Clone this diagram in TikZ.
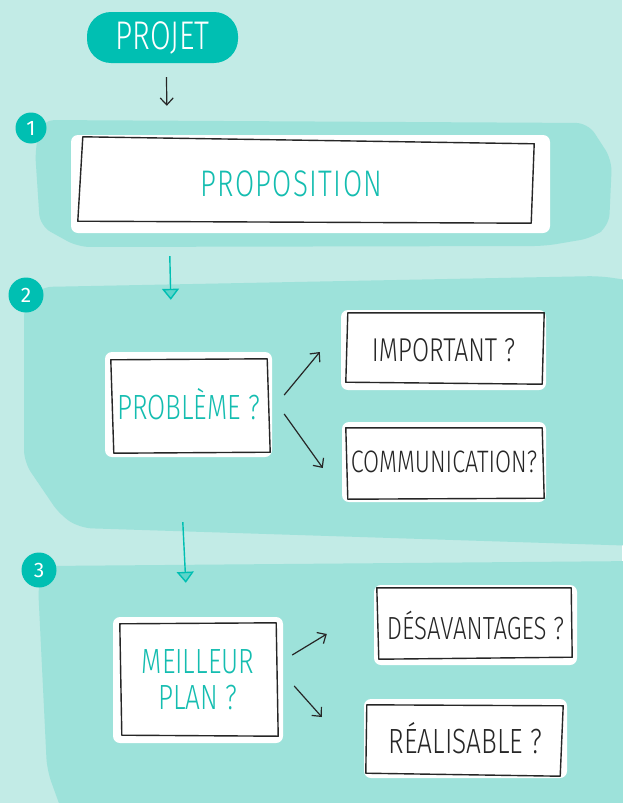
\documentclass[tikz,border=0pt]{standalone}
\usepackage{fontspec}
\newfontfamily\hand[FakeStretch=0.75]{Fira Sans Light}
\newfontfamily\handnum{Fira Sans}
\usetikzlibrary{arrows.meta,calc}
\definecolor{bgc}{HTML}{C2EBE6}
\definecolor{bandc}{HTML}{9DE2DA}
\definecolor{tealdark}{HTML}{00BFB2}
\definecolor{tealtext}{HTML}{14BDB0}
\definecolor{ink}{HTML}{262626}
\newcommand{\skbox}[9]{\draw[sketch] ($(#1.north west)+(#2,#3)$) -- ($(#1.north east)+(#4,#5)$) -- ($(#1.south east)+(#6,#7)$) -- ($(#1.south west)+(#8,#9)$) -- cycle;}
\begin{document}
\begin{tikzpicture}[x=1pt,y=-1pt,
 halo/.style={fill=white, rounded corners=7pt, inner sep=0pt, text=ink, align=center},
 maintext/.style={text=tealtext, font=\hand\fontsize{35}{40}\selectfont},
 subtext/.style={text=ink, font=\hand\fontsize{33}{38}\selectfont},
 sketch/.style={draw=ink, line width=1.4pt, line join=round},
 band/.style={fill=bandc, rounded corners=12pt},
 badge/.style={circle, fill=tealdark, text=white, inner sep=0pt, font=\handnum\fontsize{21}{21}\selectfont},
 inkarrow/.style={draw=ink, line width=1.2pt, -{Straight Barb[length=7pt,width=13pt]}},
 tealarrow/.style={draw=tealdark, line width=1.4pt, -{Triangle[length=11pt, width=17pt, line width=1.4pt, fill=tealdark!40!bandc]}},
]
\useasboundingbox (0,0) rectangle (622,803);
\fill[bgc] (0,0) rectangle (622,803);
% bands
\path[band] (42,120) -- (588,123) -- (612,160) -- (609,226) -- (592,238) -- (545,246) -- (78,247) -- (40,226) -- (35,150) -- cycle;
\path[band] (40,287) -- (600,276) -- (640,282) -- (640,546) -- (80,528) -- (60,515) -- (24,462) -- (24,305) -- cycle;
\path[band] (45,566) -- (640,561) -- (640,820) -- (65,820) -- (47,770) -- (38,585) -- cycle;
% badges
\node[badge, minimum size=31pt] (b1) at (31,128) {1};
\node[badge, minimum size=35pt] (b2) at (26,295) {2};
\node[badge, minimum size=35pt] (b3) at (39,570) {3};
% project blob
\node[fill=tealdark, rounded corners=24pt, minimum width=151pt, minimum height=51pt, inner sep=0pt, text=white, font=\hand\fontsize{40}{44}\selectfont] (projet) at (162.5,37.5) {PROJET};
% boxes
\node[halo, minimum width=479pt, minimum height=98pt, label={[maintext, font=\hand\fontsize{37}{40}\selectfont\addfontfeature{LetterSpace=3.5}, xshift=-19pt]center:PROPOSITION}] (prop) at (310.5,184) {};
\node[halo, maintext, minimum width=167pt, minimum height=105pt] (prob) at (188.5,404.5) {PROBLÈME ?};
\node[halo, subtext, minimum width=205pt, minimum height=80pt] (imp) at (443.5,350) {IMPORTANT ?};
\node[halo, subtext, minimum width=204pt, minimum height=80pt, font=\hand\fontsize{31}{34}\selectfont] (comm) at (444,462) {COMMUNICATION?};
\node[halo, maintext, minimum width=170pt, minimum height=126pt, font=\hand\fontsize{35}{36}\selectfont] (meil) at (198,680) {MEILLEUR\\PLAN ?};
\node[halo, subtext, minimum width=203pt, minimum height=80pt, font=\hand\fontsize{32}{34}\selectfont] (desa) at (475.5,625) {DÉSAVANTAGES ?};
\node[halo, subtext, minimum width=203pt, minimum height=79pt, font=\hand\fontsize{35}{38}\selectfont] (real) at (465.5,738.5) {RÉALISABLE ?};
% sketch outlines
\skbox{prop}{12}{2}{-16}{9}{-19}{-10}{7}{-12}
\skbox{prob}{6}{8}{-5}{7}{-2}{-5}{9}{-4}
\skbox{imp}{7}{3}{-2}{3}{-4}{-6}{5}{-8}
\skbox{comm}{4}{6}{-4}{6}{-2}{-4}{6}{-3}
\skbox{meil}{7}{7}{-7}{6}{-5}{-7}{9}{-8}
\skbox{desa}{3}{3}{-6}{3}{-5}{-8}{5}{-6}
\skbox{real}{3}{6}{-4}{7}{-7}{-2}{2}{-5}
% connectors
\draw[inkarrow] ($(projet.south)+(4,14)$) -- ($(prop.north west)+(96,-29)$);
\draw[tealarrow] ($(prop.south west)+(99,23)$) -- ($(prob.north west)+(66,-52)$);
\draw[tealarrow] ($(prob.south west)+(78,65)$) -- ($(meil.north west)+(73,-34)$);
\draw[inkarrow] ($(prob.east)+(12,-9.5)$) -- ($(imp.west)+(-21,2)$);
\draw[inkarrow] ($(prob.east)+(12,9.5)$) -- ($(comm.west)+(-19,6)$);
\draw[inkarrow] ($(meil.east)+(9,-25)$) -- ($(desa.west)+(-47,9)$);
\draw[inkarrow] ($(meil.east)+(11,6)$) -- ($(real.west)+(-42,-21.5)$);
\end{tikzpicture}
\end{document}
